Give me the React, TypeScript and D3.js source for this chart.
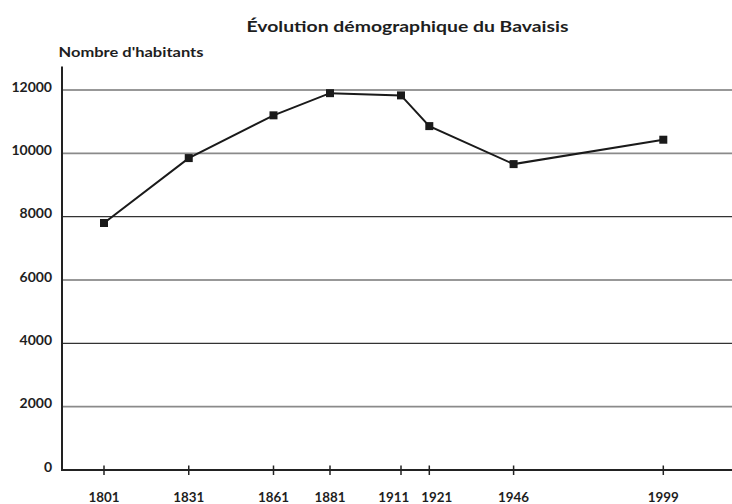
import React from "react";
import * as d3 from "d3";

const years = [1801, 1831, 1861, 1881, 1911, 1921, 1946, 1999];
const population = [7800, 9850, 11200, 11900, 11830, 10860, 9660, 10430];
const yTicks = [0, 2000, 4000, 6000, 8000, 10000, 12000];
const lightGrid = [2000, 10000];
const title = "Évolution démographique du Bavaisis";
const yTitle = "Nombre d'habitants";

// the original axis is not strictly proportional in time: breakpoints of the x scale
const xBreaks = [1801, 1881, 1911, 1921, 1946, 1999];

const W = 732;
const H = 504;
const FONT = "Lato, 'Open Sans', sans-serif";

export default function App() {
  const x = d3.scaleLinear().domain(xBreaks).range([104, 330, 401, 429.3, 513.6, 663.3]);
  const y = d3.scaleLinear().domain([0, 12000]).range([470, 90]);
  const axisLeft = 62;
  const axisRight = W;
  const line = d3
    .line<number>()
    .x((_, i) => x(years[i]))
    .y((d) => y(d));
  const ms = 8;

  // spread apart tick labels that sit too close together
  const minGap = 43;
  const labelShift = years.map((yr, i) => {
    let s = 0;
    if (i > 0 && x(yr) - x(years[i - 1]) < minGap) s += (minGap - (x(yr) - x(years[i - 1]))) / 2;
    if (i < years.length - 1 && x(years[i + 1]) - x(yr) < minGap)
      s -= (minGap - (x(years[i + 1]) - x(yr))) / 2;
    return s;
  });

  return (
    <svg
      width={W}
      height={H}
      style={{ position: "absolute", left: 0, top: 0, background: "#fff" }}
      fontFamily={FONT}
    >
      <text
        x={246.5}
        y={32}
        fontSize={16}
        fontWeight={700}
        fill="#1e1e1e"
        textLength={322}
        lengthAdjust="spacingAndGlyphs"
      >
        {title}
      </text>
      <text
        x={58.5}
        y={57}
        fontSize={13.5}
        fontWeight={700}
        fill="#1e1e1e"
        textLength={145}
        lengthAdjust="spacingAndGlyphs"
      >
        {yTitle}
      </text>
      {yTicks.map((t) => (
        <g key={t}>
          {t > 0 && (
            <line
              x1={axisLeft}
              x2={axisRight}
              y1={y(t)}
              y2={y(t)}
              stroke={lightGrid.includes(t) ? "#8a8a8a" : "#333"}
              strokeWidth={lightGrid.includes(t) ? 1.6 : 1.1}
            />
          )}
          <text x={52} y={y(t)} dy={1.8} textAnchor="end" fontSize={14} fontWeight={700} fill="#1e1e1e">
            {t}
          </text>
        </g>
      ))}
      <line x1={axisLeft} x2={axisLeft} y1={66.5} y2={y(0) + 1} stroke="#222" strokeWidth={2} />
      <line x1={axisLeft - 1} x2={axisRight} y1={y(0)} y2={y(0)} stroke="#222" strokeWidth={2} />
      {years.map((yr, i) => (
        <g key={yr}>
          <line x1={x(yr)} x2={x(yr)} y1={y(0) - 4.5} y2={y(0) + 5} stroke="#222" strokeWidth={1.5} />
          <text
            x={x(yr) + labelShift[i]}
            y={501.5}
            textAnchor="middle"
            fontSize={13}
            fontWeight={700}
            fill="#1e1e1e"
            textLength={31}
            lengthAdjust="spacingAndGlyphs"
          >
            {yr}
          </text>
        </g>
      ))}
      <path d={line(population) || ""} fill="none" stroke="#1a1a1a" strokeWidth={2} />
      {population.map((v, i) => (
        <rect
          key={i}
          x={x(years[i]) - ms / 2}
          y={y(v) - ms / 2}
          width={ms}
          height={ms}
          fill="#1a1a1a"
        />
      ))}
    </svg>
  );
}
